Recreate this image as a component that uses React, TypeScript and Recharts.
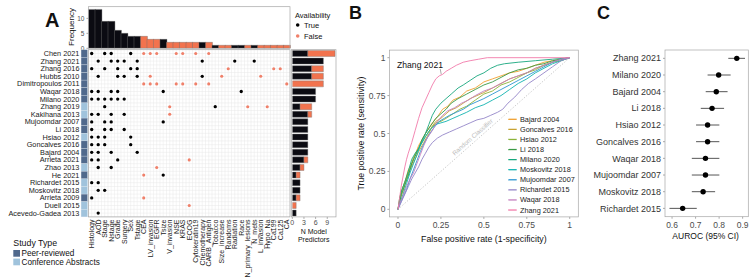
import React from 'react';
import {
  BarChart, Bar, Cell, XAxis, YAxis, ScatterChart, Scatter, CartesianGrid,
  LineChart, Line, ReferenceLine, ErrorBar,
} from 'recharts';

const FONT = '"Liberation Sans", Arial, Helvetica, sans-serif';
const W = 750;
const H = 277;

const BLACK = '#0b0b12';
const ORANGE = '#f2734e';
const ORANGE_DOT = '#f0806a';
const PEER = '#50698c';
const CONF = '#a0c3dc';
const FRAME = '#a6a6a6';

// ---- panel A data ----
const studies = [
  'Chen 2021', 'Zhang 2021', 'Zhang 2016', 'Hubbs 2010', 'Dimitropoulos 2011', 'Waqar 2018',
  'Milano 2020', 'Zhang 2019', 'Kakihana 2013', 'Mujoomdar 2007', 'Li 2018', 'Hsiao 2012',
  'Goncalves 2016', 'Bajard 2004', 'Arrieta 2021', 'Zhao 2013', 'He 2021', 'Richardet 2015',
  'Moskovitz 2018', 'Arrieta 2009', 'Duell 2015', 'Acevedo-Gadea 2013',
];
const studyTypes = [
  'Peer-reviewed', 'Peer-reviewed', 'Peer-reviewed', 'Peer-reviewed', 'Peer-reviewed', 'Peer-reviewed',
  'Peer-reviewed', 'Conference Abstracts', 'Conference Abstracts', 'Peer-reviewed', 'Peer-reviewed',
  'Conference Abstracts', 'Peer-reviewed', 'Peer-reviewed', 'Peer-reviewed', 'Conference Abstracts',
  'Peer-reviewed', 'Conference Abstracts', 'Conference Abstracts', 'Peer-reviewed',
  'Conference Abstracts', 'Conference Abstracts',
];
const variables = [
  'Histology', 'AOD', 'Stage', 'Nstage', 'Grade', 'Surgery', 'Sex', 'Tstage', 'CEA', 'LV_invasion',
  'EGFR', 'Tsize', 'V_invasion', 'NSE', 'KRAS', 'ECOG', 'Cytokeratin19', 'Chemotherapy',
  'CARB_Antigen', 'Tobacco', 'Size_increase', 'Randoms', 'Radiation', 'Race', 'N_primary_lesions',
  'N_mets', 'L_invasion', 'Hypo_Na', 'Ca199', 'Ca125', 'CA',
];
const variableAvailable = [
  true, true, true, true, true, true, true, true, false, false,
  false, true, false, false, false, false, false, true,
  false, true, false, false, true, true, false,
  true, false, false, false, false, false,
];
const studyVariables = [
  ['Histology', 'Stage', 'Nstage', 'Sex', 'CEA', 'LV_invasion', 'EGFR', 'NSE', 'KRAS', 'Cytokeratin19', 'CARB_Antigen'],
  ['AOD', 'Nstage', 'Grade', 'Surgery', 'Tstage', 'Chemotherapy', 'Radiation', 'N_mets'],
  ['Histology', 'Stage', 'Grade', 'Sex', 'Tstage', 'Randoms', 'Ca199', 'Ca125'],
  ['AOD', 'Grade', 'Surgery', 'Tstage', 'LV_invasion', 'Chemotherapy', 'Size_increase', 'L_invasion'],
  ['CEA', 'LV_invasion', 'EGFR', 'NSE', 'KRAS', 'Cytokeratin19', 'CARB_Antigen', 'CA'],
  ['Histology', 'AOD', 'Nstage', 'Grade', 'Tsize', 'Race'],
  ['Histology', 'AOD', 'Stage', 'Nstage', 'Grade', 'Surgery'],
  ['Stage', 'V_invasion', 'Tobacco', 'N_primary_lesions', 'Hypo_Na'],
  ['Histology', 'AOD', 'Nstage', 'Surgery', 'V_invasion'],
  ['Histology', 'Stage', 'Nstage', 'Tsize'],
  ['Histology', 'Stage', 'Nstage', 'Surgery'],
  ['Histology', 'AOD', 'Stage', 'Sex'],
  ['Histology', 'AOD', 'Stage', 'Sex'],
  ['Histology', 'AOD', 'Nstage', 'Tstage'],
  ['Histology', 'AOD', 'Grade', 'ECOG'],
  ['AOD', 'Nstage', 'EGFR'],
  ['CEA', 'Tsize'],
  ['Histology', 'AOD'],
  ['AOD', 'Stage'],
  ['Histology', 'CEA'],
  ['ECOG'],
  ['AOD'],
];

// ---- panel B data (fpr, tpr) ----
const rocBajard2004 = [[0,0],[0.01,0.05],[0.02,0.12],[0.04,0.18],[0.06,0.26],[0.08,0.3],[0.1,0.36],[0.12,0.42],[0.14,0.46],[0.17,0.52],[0.2,0.57],[0.23,0.61],[0.26,0.66],[0.29,0.68],[0.32,0.72],[0.36,0.74],[0.4,0.78],[0.45,0.8],[0.5,0.84],[0.55,0.86],[0.6,0.88],[0.65,0.9],[0.7,0.91],[0.75,0.93],[0.8,0.95],[0.85,0.97],[0.9,0.98],[0.95,0.99],[1,1]];
const rocGoncalves2016 = [[0,0],[0.01,0.06],[0.03,0.12],[0.05,0.2],[0.07,0.26],[0.1,0.33],[0.12,0.38],[0.15,0.44],[0.18,0.5],[0.2,0.55],[0.22,0.58],[0.25,0.6],[0.28,0.63],[0.3,0.65],[0.34,0.67],[0.38,0.7],[0.42,0.73],[0.46,0.75],[0.5,0.77],[0.55,0.8],[0.6,0.83],[0.65,0.86],[0.7,0.88],[0.75,0.9],[0.8,0.93],[0.85,0.95],[0.9,0.97],[0.95,0.99],[1,1]];
const rocHsiao2012 = [[0,0],[0.01,0.08],[0.03,0.15],[0.05,0.21],[0.07,0.27],[0.09,0.34],[0.11,0.38],[0.13,0.42],[0.16,0.48],[0.19,0.53],[0.22,0.57],[0.25,0.58],[0.28,0.6],[0.32,0.63],[0.36,0.66],[0.4,0.68],[0.45,0.72],[0.5,0.76],[0.55,0.78],[0.6,0.82],[0.65,0.84],[0.7,0.87],[0.75,0.9],[0.8,0.92],[0.85,0.95],[0.9,0.97],[0.95,0.98],[1,1]];
const rocLi2018 = [[0,0],[0.01,0.05],[0.02,0.1],[0.04,0.16],[0.06,0.22],[0.08,0.3],[0.1,0.35],[0.12,0.4],[0.14,0.46],[0.16,0.5],[0.19,0.55],[0.22,0.6],[0.25,0.63],[0.28,0.66],[0.31,0.7],[0.35,0.73],[0.4,0.76],[0.45,0.79],[0.5,0.82],[0.55,0.84],[0.6,0.87],[0.65,0.9],[0.7,0.92],[0.75,0.93],[0.8,0.95],[0.85,0.96],[0.9,0.98],[0.95,0.99],[1,1]];
const rocMilano2020 = [[0,0],[0.01,0.07],[0.02,0.12],[0.04,0.18],[0.06,0.25],[0.08,0.33],[0.1,0.37],[0.12,0.4],[0.14,0.45],[0.16,0.5],[0.18,0.56],[0.2,0.62],[0.22,0.66],[0.25,0.7],[0.28,0.73],[0.31,0.76],[0.35,0.8],[0.38,0.82],[0.42,0.85],[0.46,0.88],[0.5,0.9],[0.54,0.93],[0.58,0.95],[0.62,0.96],[0.7,0.97],[0.8,0.98],[0.9,0.99],[1,1]];
const rocMoskovitz2018 = [[0,0],[0.01,0.04],[0.03,0.1],[0.05,0.17],[0.07,0.24],[0.09,0.3],[0.11,0.36],[0.13,0.42],[0.16,0.48],[0.19,0.53],[0.22,0.56],[0.25,0.57],[0.28,0.58],[0.32,0.6],[0.36,0.62],[0.4,0.64],[0.45,0.67],[0.5,0.69],[0.55,0.72],[0.6,0.75],[0.65,0.79],[0.7,0.83],[0.75,0.86],[0.8,0.9],[0.85,0.93],[0.9,0.96],[0.95,0.98],[1,1]];
const rocMujoomdar2007 = [[0,0],[0.01,0.03],[0.03,0.08],[0.05,0.13],[0.07,0.2],[0.09,0.26],[0.11,0.32],[0.13,0.38],[0.15,0.43],[0.18,0.49],[0.21,0.54],[0.24,0.58],[0.27,0.6],[0.3,0.62],[0.34,0.64],[0.38,0.66],[0.42,0.69],[0.46,0.71],[0.5,0.73],[0.55,0.76],[0.6,0.79],[0.65,0.82],[0.7,0.85],[0.75,0.88],[0.8,0.91],[0.85,0.94],[0.9,0.97],[0.95,0.99],[1,1]];
const rocRichardet2015 = [[0,0],[0.02,0.05],[0.04,0.1],[0.06,0.15],[0.08,0.2],[0.1,0.24],[0.12,0.28],[0.14,0.33],[0.16,0.37],[0.18,0.41],[0.2,0.44],[0.23,0.47],[0.26,0.49],[0.3,0.51],[0.34,0.53],[0.38,0.55],[0.42,0.57],[0.46,0.59],[0.5,0.6],[0.54,0.62],[0.58,0.64],[0.61,0.66],[0.64,0.7],[0.68,0.74],[0.72,0.79],[0.76,0.83],[0.8,0.86],[0.85,0.9],[0.9,0.94],[0.95,0.98],[1,1]];
const rocWaqar2018 = [[0,0],[0.01,0.04],[0.03,0.09],[0.05,0.15],[0.07,0.2],[0.09,0.24],[0.11,0.3],[0.13,0.36],[0.15,0.42],[0.17,0.47],[0.2,0.52],[0.23,0.58],[0.26,0.62],[0.29,0.65],[0.33,0.67],[0.37,0.7],[0.41,0.72],[0.45,0.75],[0.5,0.78],[0.55,0.8],[0.6,0.83],[0.65,0.86],[0.7,0.88],[0.75,0.9],[0.8,0.93],[0.85,0.95],[0.9,0.97],[0.95,0.99],[1,1]];
const rocZhang2021 = [[0,0],[0.01,0.08],[0.02,0.16],[0.03,0.22],[0.04,0.28],[0.05,0.33],[0.06,0.37],[0.08,0.44],[0.1,0.52],[0.12,0.6],[0.14,0.67],[0.16,0.72],[0.18,0.77],[0.2,0.82],[0.22,0.86],[0.24,0.88],[0.26,0.89],[0.28,0.91],[0.31,0.93],[0.34,0.95],[0.38,0.97],[0.42,0.98],[0.47,0.99],[0.52,1],[1,1]];

const rocNames = ['Bajard 2004', 'Goncalves 2016', 'Hsiao 2012', 'Li 2018', 'Milano 2020', 'Moskovitz 2018', 'Mujoomdar 2007', 'Richardet 2015', 'Waqar 2018', 'Zhang 2021'];
const rocColors = ['#f0a030', '#c8a232', '#8db33a', '#3a9a45', '#17a77e', '#11b3b0', '#2b95d0', '#9486c8', '#c47fbf', '#f27baa'];
const rocCurves = [rocBajard2004, rocGoncalves2016, rocHsiao2012, rocLi2018, rocMilano2020, rocMoskovitz2018, rocMujoomdar2007, rocRichardet2015, rocWaqar2018, rocZhang2021];

// ---- panel C data ----
const aurocStudies = ['Zhang 2021', 'Milano 2020', 'Bajard 2004', 'Li 2018', 'Hsiao 2012', 'Goncalves 2016', 'Waqar 2018', 'Mujoomdar 2007', 'Moskovitz 2018', 'Richardet 2015'];
const aurocValues = [0.875, 0.798, 0.788, 0.77, 0.751, 0.751, 0.742, 0.742, 0.732, 0.645];
const aurocLower = [0.839, 0.751, 0.743, 0.722, 0.702, 0.702, 0.684, 0.684, 0.684, 0.589];
const aurocUpper = [0.91, 0.849, 0.836, 0.821, 0.801, 0.801, 0.801, 0.801, 0.783, 0.705];

// ---- layout (plot areas, px) ----
const A_LEFT = 88.45;
const A_RIGHT = 290;
const HIST_TOP = 6.7;
const HIST_BOTTOM = 48.3;
const MAT_TOP = 49.7;
const MAT_BOTTOM = 216.9;
const RB_LEFT = 292.3;
const RB_RIGHT = 336;
const B_LEFT = 389.4;
const B_RIGHT = 578.3;
const B_TOP = 50.1;
const B_BOTTOM = 216.9;
const C_LEFT = 665;
const C_RIGHT = 748.3;
const C_TOP = 50;
const C_BOTTOM = 216.7;
const ROW_H = (MAT_BOTTOM - MAT_TOP) / studies.length;

const histData = variables.map((v, i) => ({
  name: v,
  count: studyVariables.filter((list) => list.includes(v)).length,
  available: variableAvailable[i],
}));

const dots = studyVariables.flatMap((list, row) =>
  list.map((v) => {
    const col = variables.indexOf(v);
    return { col, row, available: variableAvailable[col] };
  }),
);
const dotsTrue = dots.filter((d) => d.available);
const dotsFalse = dots.filter((d) => !d.available);

const rowBars = studies.map((s, i) => ({
  name: s,
  avail: studyVariables[i].filter((v) => variableAvailable[variables.indexOf(v)]).length,
  unavail: studyVariables[i].filter((v) => !variableAvailable[variables.indexOf(v)]).length,
}));

const forestData = aurocStudies.map((s, i) => ({
  name: s,
  auc: aurocValues[i],
  err: [aurocValues[i] - aurocLower[i], aurocUpper[i] - aurocValues[i]],
}));

const halfTicks = (n: number) => Array.from({ length: 2 * n + 1 }, (_, i) => -0.5 + i * 0.5);

function ColTick(props: any) {
  const { x, y, payload } = props;
  const v = payload.value;
  if (!Number.isInteger(v)) return <g />;
  const ty = y + 2.6;
  return (
    <text x={x} y={ty} transform={`rotate(-90, ${x}, ${ty})`} textAnchor="end" dy="0.35em"
      fontSize={7} fill="#222" fontFamily={FONT}>{variables[v]}</text>
  );
}

function RowTick(props: any) {
  const { x, y, payload } = props;
  const v = payload.value;
  if (!Number.isInteger(v)) return <g />;
  return (
    <g>
      <rect x={x - 7.4} y={y - ROW_H / 2} width={6.5} height={ROW_H}
        fill={studyTypes[v] === 'Peer-reviewed' ? PEER : CONF} stroke="#dfe6ee" strokeWidth={0.3} />
      <text x={x - 9} y={y} dy="0.35em" textAnchor="end" fontSize={7.3} fill="#1a1a1a" fontFamily={FONT}>
        {studies[v]}
      </text>
    </g>
  );
}

function ForestTick(props: any) {
  const { x, y, payload } = props;
  return (
    <text x={x} y={y} dy="0.35em" textAnchor="end" fontSize={9} fill="#333" fontFamily={FONT}>
      {payload.value}
    </text>
  );
}

const layer: React.CSSProperties = { position: 'absolute', left: 0, top: 0, width: W, height: H };

export default function App() {
  const tickGrey = { fontSize: 8.5, fill: '#4d4d4d', fontFamily: FONT };
  return (
    <div style={{ position: 'absolute', left: 0, top: 0, width: W, height: H, background: '#fff', overflow: 'hidden' }}>
      {/* A: predictor frequency */}
      <div style={layer}>
        <BarChart width={W} height={H} data={histData} barCategoryGap={0}
          margin={{ top: HIST_TOP, right: W - A_RIGHT, bottom: H - HIST_BOTTOM, left: A_LEFT - 30 }}>
          <XAxis dataKey="name" hide />
          <YAxis width={30} domain={[0, 13.9]} ticks={[0, 5, 10]} allowDataOverflow axisLine={false}
            tickSize={2} tickMargin={2} tickLine={{ stroke: '#555', strokeWidth: 0.5 }}
            tick={{ fontSize: 6.5, fill: '#4d4d4d', fontFamily: FONT }} />
          <Bar dataKey="count" isAnimationActive={false} stroke="#707070" strokeWidth={0.4}>
            {histData.map((d, i) => <Cell key={i} fill={d.available ? BLACK : ORANGE} />)}
          </Bar>
        </BarChart>
      </div>

      {/* A: predictor matrix */}
      <div style={layer}>
        <ScatterChart width={W} height={H} margin={{ top: MAT_TOP, right: W - A_RIGHT, bottom: 0, left: 0 }}>
          <CartesianGrid stroke="#e8e8e8" strokeWidth={0.5} />
          <XAxis type="number" dataKey="col" domain={[-0.5, 30.5]} ticks={halfTicks(31)} interval={0}
            height={H - MAT_BOTTOM} axisLine={false} tickLine={false} tickSize={0} tickMargin={0} tick={ColTick} />
          <YAxis type="number" dataKey="row" domain={[-0.5, 21.5]} ticks={halfTicks(22)} interval={0} reversed
            width={A_LEFT} axisLine={false} tickLine={false} tickSize={0} tickMargin={0} tick={RowTick} />
          <Scatter data={dotsTrue} isAnimationActive={false}
            shape={(p: any) => <circle cx={p.cx} cy={p.cy} r={1.65} fill="#000" />} />
          <Scatter data={dotsFalse} isAnimationActive={false}
            shape={(p: any) => <circle cx={p.cx} cy={p.cy} r={1.55} fill={ORANGE_DOT} />} />
        </ScatterChart>
      </div>

      {/* A: number of predictors per model */}
      <div style={layer}>
        <BarChart width={W} height={H} data={rowBars} layout="vertical" barCategoryGap="10%"
          margin={{ top: MAT_TOP, right: W - RB_RIGHT, bottom: 0, left: RB_LEFT }}>
          <XAxis type="number" domain={[0, 11.25]} ticks={[0, 3, 6, 9]} allowDataOverflow height={H - MAT_BOTTOM}
            axisLine={false} tickSize={2} tickMargin={1} tickLine={{ stroke: '#555', strokeWidth: 0.5 }}
            tick={{ fontSize: 7, fill: '#4d4d4d', fontFamily: FONT }} />
          <YAxis type="category" dataKey="name" hide />
          <Bar dataKey="avail" stackId="n" fill={BLACK} stroke="#777" strokeWidth={0.4} isAnimationActive={false} />
          <Bar dataKey="unavail" stackId="n" fill={ORANGE} stroke="#777" strokeWidth={0.4} isAnimationActive={false} />
        </BarChart>
      </div>

      {/* B: ROC curves */}
      <div style={layer}>
        <LineChart width={W} height={H}
          margin={{ top: B_TOP, right: W - B_RIGHT, bottom: 0, left: B_LEFT - 30 }}>
          <XAxis type="number" dataKey="fpr" domain={[-0.05, 1.05]} ticks={[0, 0.25, 0.5, 0.75, 1]} allowDataOverflow
            height={H - B_BOTTOM} axisLine={false} tickSize={2} tickMargin={3}
            tickLine={{ stroke: '#555', strokeWidth: 0.5 }} tick={tickGrey} />
          <YAxis type="number" dataKey="tpr" domain={[-0.05, 1.05]} ticks={[0, 0.25, 0.5, 0.75, 1]} allowDataOverflow
            width={30} axisLine={false} tickSize={2} tickMargin={2}
            tickLine={{ stroke: '#555', strokeWidth: 0.5 }} tick={tickGrey} />
          <ReferenceLine segment={[{ x: 0, y: 0 }, { x: 1, y: 1 }]} stroke="#bdbdbd" strokeWidth={0.9} strokeDasharray="1.2 1.8" />
          <ReferenceLine segment={[{ x: 0.246, y: 0.925 }, { x: 0.252, y: 0.89 }]} stroke="#777" strokeWidth={0.6} />
          {rocCurves.map((pts, i) => (
            <Line key={rocNames[i]} data={pts.map(([fpr, tpr]) => ({ fpr, tpr }))} dataKey="tpr" name={rocNames[i]}
              type="linear" stroke={rocColors[i]} strokeWidth={0.9} dot={false} isAnimationActive={false} />
          ))}
        </LineChart>
      </div>

      {/* C: AUROC forest plot */}
      <div style={layer}>
        <ScatterChart width={W} height={H} margin={{ top: C_TOP, right: W - C_RIGHT, bottom: 0, left: C_LEFT - 80 }}>
          <XAxis type="number" dataKey="auc" domain={[0.57, 0.924]} ticks={[0.6, 0.7, 0.8, 0.9]} allowDataOverflow
            height={H - C_BOTTOM} axisLine={false} tickSize={2} tickMargin={3}
            tickLine={{ stroke: '#555', strokeWidth: 0.5 }} tick={tickGrey}
            tickFormatter={(v: number) => v.toFixed(1)} />
          <YAxis type="category" dataKey="name" reversed width={80} axisLine={false} tickSize={2} tickMargin={2}
            tickLine={{ stroke: '#555', strokeWidth: 0.5 }} interval={0} tick={ForestTick} />
          <Scatter data={forestData} isAnimationActive={false}
            shape={(p: any) => <circle cx={p.cx} cy={p.cy} r={2.7} fill="#000" />}>
            <ErrorBar dataKey="err" direction="x" width={0} stroke="#555" strokeWidth={1} />
          </Scatter>
        </ScatterChart>
      </div>

      {/* frames, titles, legends */}
      <svg width={W} height={H} style={{ ...layer, pointerEvents: 'none' }} fontFamily={FONT}>
        <g fill="none" stroke={FRAME} strokeWidth={0.7}>
          <rect x={A_LEFT} y={HIST_TOP} width={A_RIGHT - A_LEFT} height={HIST_BOTTOM - HIST_TOP} />
          <rect x={A_LEFT} y={MAT_TOP} width={A_RIGHT - A_LEFT} height={MAT_BOTTOM - MAT_TOP} />
          <rect x={RB_LEFT - 1} y={MAT_TOP} width={RB_RIGHT - RB_LEFT + 1} height={MAT_BOTTOM - MAT_TOP} />
          <rect x={B_LEFT} y={B_TOP} width={B_RIGHT - B_LEFT} height={B_BOTTOM - B_TOP} />
          <rect x={C_LEFT} y={C_TOP} width={C_RIGHT - C_LEFT} height={C_BOTTOM - C_TOP} />
        </g>

        <text x={45} y={26.5} fontSize={20} fontWeight="bold" fill="#111">A</text>
        <text x={349} y={19} fontSize={18} fontWeight="bold" fill="#111">B</text>
        <text x={597} y={18.5} fontSize={18} fontWeight="bold" fill="#111">C</text>

        <text x={71} y={27} transform="rotate(-90, 71, 27)" textAnchor="middle" dy="0.35em" fontSize={8} fill="#111">Frequency</text>
        <text x={313.7} y={234} textAnchor="middle" fontSize={7} fill="#111">N Model</text>
        <text x={313.7} y={241.5} textAnchor="middle" fontSize={7} fill="#111">Predictors</text>

        <text x={295} y={17.5} fontSize={7.5} fill="#111">Availability</text>
        <circle cx={297.7} cy={25} r={1.8} fill="#000" />
        <text x={304} y={27.7} fontSize={7.5} fill="#111">True</text>
        <circle cx={297.7} cy={36} r={1.8} fill={ORANGE_DOT} />
        <text x={304} y={38.7} fontSize={7.5} fill="#111">False</text>

        <text x={13.3} y={246.3} fontSize={8.8} fill="#111">Study Type</text>
        <rect x={13.3} y={250} width={6.7} height={6.7} fill={PEER} />
        <text x={21.5} y={256.2} fontSize={8.2} fill="#111">Peer-reviewed</text>
        <rect x={13.3} y={258.6} width={6.7} height={6.7} fill={CONF} />
        <text x={21.5} y={264.8} fontSize={8.2} fill="#111">Conference Abstracts</text>

        <text x={361} y={(B_TOP + B_BOTTOM) / 2} transform={`rotate(-90, 361, ${(B_TOP + B_BOTTOM) / 2})`}
          textAnchor="middle" dy="0.35em" fontSize={8.8} fill="#111">True positive rate (sensitivity)</text>
        <text x={(B_LEFT + B_RIGHT) / 2} y={242} textAnchor="middle" fontSize={8.8} fill="#111">False positive rate (1-specificity)</text>
        <text x={420} y={68} textAnchor="middle" fontSize={8.6} fill="#111">Zhang 2021</text>
        <text x={472.5} y={137} transform="rotate(-41.4, 472.5, 137)" textAnchor="middle" dy="0.35em"
          fontSize={6.3} fill="#bdbdbd">Random Classifier</text>
        {rocNames.map((n, i) => (
          <g key={n}>
            <line x1={508.3} x2={516.7} y1={119.3 + i * 10.08} y2={119.3 + i * 10.08} stroke={rocColors[i]} strokeWidth={1.3} />
            <text x={520} y={119.3 + i * 10.08} dy="0.35em" fontSize={7.3} fill="#222">{n}</text>
          </g>
        ))}

        <text x={(C_LEFT + C_RIGHT) / 2 - 1} y={239} textAnchor="middle" fontSize={8.5} fill="#111">AUROC (95% CI)</text>
      </svg>
    </div>
  );
}
